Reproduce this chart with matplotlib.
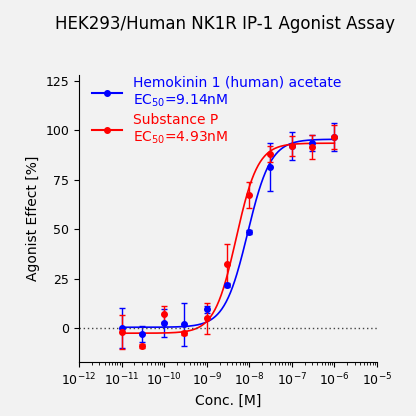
import numpy as np
import matplotlib.pyplot as plt
from matplotlib.ticker import LogLocator, NullFormatter

conc = [1e-11, 3e-11, 1e-10, 3e-10, 1e-9, 3e-9, 1e-8, 3e-8, 1e-7, 3e-7, 1e-6]
hk_mean = [0, -3, 2.5, 2, 9.5, 22, 48.5, 81.5, 92, 93.5, 96.5]
hk_err = [10, 4, 7, 11, 2, 1, 1, 12, 7, 4, 7]
sp_mean = [-2, -9, 7, -2.3, 5, 32.5, 67.5, 88, 92, 91.5, 96.5]
sp_err = [8.5, 1, 4, 1, 8, 10, 6.5, 4, 5, 6, 6]
# fitted 4PL parameters: bottom, top, EC50, hill
hk_fit = [0.5, 95.5, 9.14e-9, 1.6]
sp_fit = [-2.5, 93.5, 4.93e-9, 1.7]

BG = "#f2f2f2"
fig = plt.figure(figsize=(4.16, 4.16), dpi=100, facecolor=BG)
ax = fig.add_axes([0.19, 0.13, 0.716, 0.69], facecolor=BG)

xs = np.logspace(-11, -6, 300)
def four_pl(x, p):
    return p[0] + (p[1] - p[0]) / (1 + (p[2] / x) ** p[3])

for mean, err, fit, col, lab in [
    (hk_mean, hk_err, hk_fit, "#0000ff", "Hemokinin 1 (human) acetate\nEC$_{50}$=9.14nM"),
    (sp_mean, sp_err, sp_fit, "#ff0000", "Substance P\nEC$_{50}$=4.93nM"),
]:
    ax.plot(xs, four_pl(xs, fit), color=col, lw=1.2)
    ax.errorbar(conc, mean, yerr=err, fmt="o", color=col, ms=4, capsize=2.5,
                elinewidth=1, capthick=1)
    ax.plot([], [], "-o", color=col, ms=4, label=lab)

ax.axhline(0, color="#444444", ls=(0, (1, 2)), lw=1)
ax.set_xscale("log")
ax.set_xlim(1e-12, 1e-5)
ax.set_ylim(-17, 128)
ax.set_yticks([0, 25, 50, 75, 100, 125])
ax.set_xticks([10.0 ** k for k in range(-12, -4)])
ax.xaxis.set_minor_locator(LogLocator(base=10, subs=np.arange(2, 10), numticks=20))
ax.xaxis.set_minor_formatter(NullFormatter())
ax.tick_params(labelsize=9)
for s in ["top", "right"]:
    ax.spines[s].set_visible(False)
ax.set_xlabel("Conc. [M]", fontsize=10)
ax.set_ylabel("Agonist Effect [%]", fontsize=10)
leg = ax.legend(loc="upper left", frameon=False, fontsize=10, labelspacing=0.3,
                handlelength=2.2, bbox_to_anchor=(0.0, 1.04))
for t, c in zip(leg.get_texts(), ["#0000ff", "#ff0000"]):
    t.set_color(c)
fig.text(0.54, 0.93, "HEK293/Human NK1R IP-1 Agonist Assay", ha="center", fontsize=12)
fig.savefig("out.png", dpi=100, facecolor=BG)
